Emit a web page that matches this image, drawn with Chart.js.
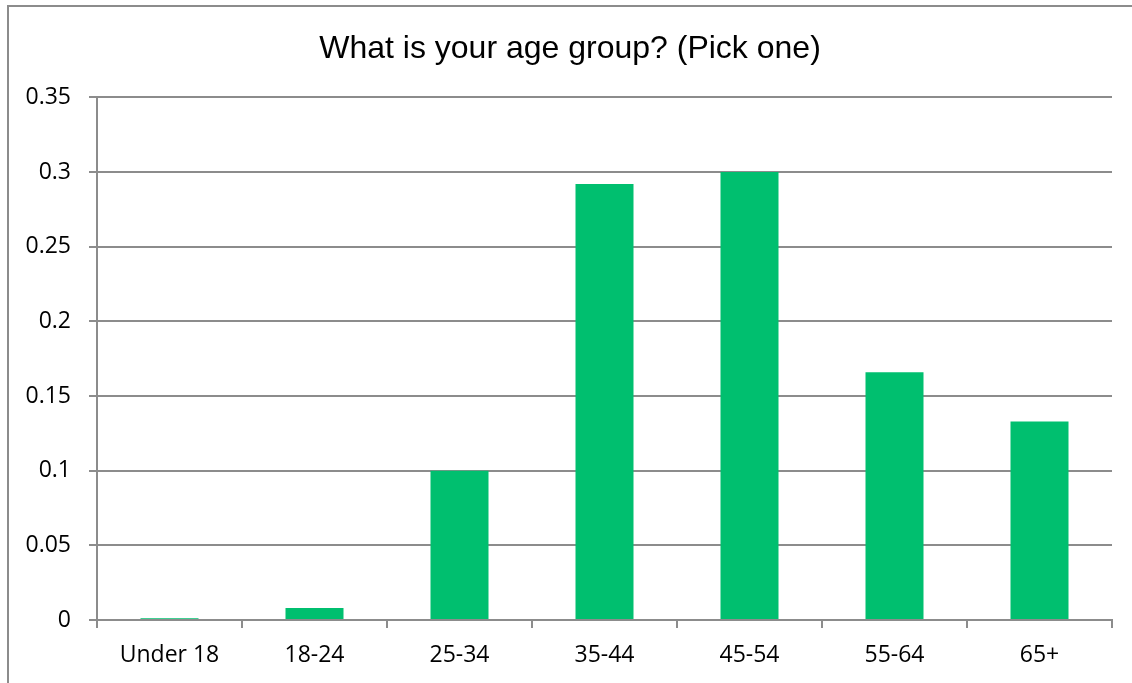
<!DOCTYPE html>
<html>
<head>
<meta charset="utf-8">
<script src="https://cdn.jsdelivr.net/npm/chart.js@4"></script>
<style>
  html, body { margin: 0; padding: 0; background: #fff; overflow: hidden; }
  #frame { position: absolute; left: 7px; top: 5px; width: 1200px; height: 800px;
           border-top: 2px solid #8c8c8c; border-left: 2px solid #8c8c8c; }
  #wrap { position: absolute; left: 0; top: 0; width: 1132px; height: 683px; }
</style>
</head>
<body>
<div id="frame"></div>
<div id="wrap"><canvas id="chart"></canvas></div>
<script>
const titleText = 'What is your age group? (Pick one)';
const ageGroups = ['Under 18', '18-24', '25-34', '35-44', '45-54', '55-64', '65+'];
const shares = [0.0012, 0.008, 0.1, 0.292, 0.3, 0.166, 0.133];
const yMax = 0.35, yStep = 0.05;

const gray = '#8c8c8c';
const tickFont = { family: '"Open Sans", sans-serif', size: 23 };

// the title is centred on the framed area, not on the plot
const titleShift = {
  id: 'titleShift',
  afterLayout(chart) { chart.titleBlock.left = 28; }
};

new Chart(document.getElementById('chart').getContext('2d'), {
  type: 'bar',
  data: {
    labels: ageGroups,
    datasets: [{ data: shares, backgroundColor: '#00bf6f', borderWidth: 0,
                 barPercentage: 1, categoryPercentage: 0.4 }]
  },
  plugins: [titleShift],
  options: {
    responsive: true, maintainAspectRatio: false, animation: false,
    layout: { padding: { left: 0, right: 20, top: 0, bottom: 0 } },
    plugins: {
      legend: { display: false },
      tooltip: { enabled: false },
      title: {
        display: true, text: titleText, color: '#000',
        font: { family: '"Liberation Sans", Arial, sans-serif', size: 32, weight: 'normal', lineHeight: 1.2 },
        padding: { top: 30, bottom: 29 }
      }
    },
    scales: {
      x: {
        afterFit: s => { s.height = 63; },
        grid: { drawOnChartArea: false, drawTicks: true, tickLength: 8, color: gray, lineWidth: 2, offset: true },
        border: { display: true, color: gray, width: 2 },
        ticks: { color: '#000', font: tickFont, padding: 14, maxRotation: 0 }
      },
      y: {
        min: 0, max: yMax,
        afterFit: s => { s.width = 97; },
        grid: { color: gray, lineWidth: 2, tickLength: 8, drawTicks: true },
        border: { display: true, color: gray, width: 2 },
        ticks: { stepSize: yStep, color: '#000', font: tickFont, padding: 18,
                 callback: v => String(+v.toFixed(2)) }
      }
    }
  }
});
</script>
</body>
</html>
